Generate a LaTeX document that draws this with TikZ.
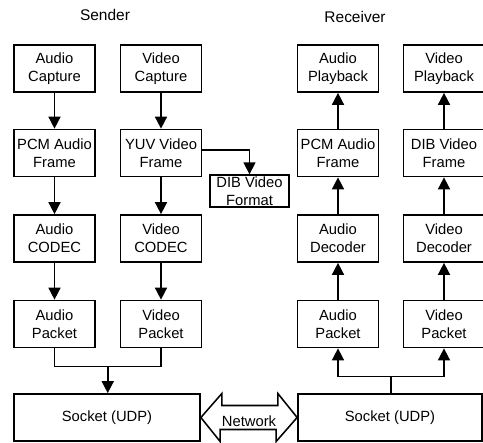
\documentclass[tikz,border=0pt]{standalone}
\usepackage{fontspec}
\setmainfont{Liberation Sans}
\usetikzlibrary{arrows.meta, positioning, calc}
\tikzset{
  blk/.style={draw, line width=1.2pt, minimum width=2.025cm, minimum height=1.175cm,
              align=center, inner sep=1pt, font=\fontsize{10.5}{12.8}\selectfont},
  sock/.style={blk, minimum height=1.175cm},
  arrow/.style={-{Triangle[length=3mm,width=3mm]}, line width=1.1pt},
  wire/.style={line width=1.1pt},
  title/.style={font=\fontsize{11}{13}\selectfont}
}

\begin{document}
\begin{tikzpicture}[x=0.025cm, y=-0.025cm]
    \useasboundingbox (0,0) rectangle (483,443);
    \node[title] (sender) at (105,15) {Sender};
    \node[title] (receiver) at (355,17) {Receiver};

    \node[blk] (acap) at (54.5,68.5) {Audio\\Capture};
    \node[blk] (vcap) at (161,68.5) {Video\\Capture};
    \node[blk] (pcm) at (54.5,153) {PCM Audio\\Frame};
    \node[blk] (yuv) at (161,153) {YUV Video\\Frame};
    \node[blk, minimum width=1.975cm, minimum height=0.7cm] (dib) at (249.5,191) {DIB Video\\Format};
    \node[blk] (acodec) at (54.5,238.5) {Audio\\CODEC};
    \node[blk] (vcodec) at (161,238.5) {Video\\CODEC};
    \node[blk] (apkt) at (54.5,324) {Audio\\Packet};
    \node[blk] (vpkt) at (161,324) {Video\\Packet};
    \node[sock, minimum width=4.65cm] (sockS) at (107,417.5) {Socket (UDP)};

    \node[blk] (aplay) at (338,68.5) {Audio\\Playback};
    \node[blk] (vplay) at (444,68.5) {Video\\Playback};
    \node[blk] (rpcm) at (338,153) {PCM Audio\\Frame};
    \node[blk] (rdib) at (444,153) {DIB Video\\Frame};
    \node[blk] (adec) at (338,238.5) {Audio\\Decoder};
    \node[blk] (vdec) at (444,238.5) {Video\\Decoder};
    \node[blk] (rapkt) at (338,324) {Audio\\Packet};
    \node[blk] (rvpkt) at (444,324) {Video\\Packet};
    \node[sock, minimum width=4.6cm] (sockR) at (390,417.5) {Socket (UDP)};

    \draw[arrow] (acap) -- (pcm);
    \draw[arrow] (pcm) -- (acodec);
    \draw[arrow] (acodec) -- (apkt);
    \draw[arrow] (vcap) -- (yuv);
    \draw[arrow] (yuv) -- (vcodec);
    \draw[arrow] (vcodec) -- (vpkt);
    \draw[arrow] ([yshift=2pt]yuv.east) -| (dib.north);

    \coordinate (sjoin) at ($(apkt.south)!0.5!(vpkt.south)+(0,18)$);
    \draw[wire] (apkt.south) |- (sjoin) -| (vpkt.south);
    \draw[arrow] (sjoin) -- (sjoin |- sockS.north);

    \draw[arrow] (rpcm) -- (aplay);
    \draw[arrow] (adec) -- (rpcm);
    \draw[arrow] (rapkt) -- (adec);
    \draw[arrow] (rdib) -- (vplay);
    \draw[arrow] (vdec) -- (rdib);
    \draw[arrow] (rvpkt) -- (vdec);

    \coordinate (rsplit) at ($(rapkt.south)!0.5!(rvpkt.south)+(0,28)$);
    \draw[wire] (rsplit |- sockR.north) -- (rsplit);
    \draw[arrow] (rsplit) -| (rapkt.south);
    \draw[arrow] (rsplit) -| (rvpkt.south);

    \draw[wire] (sockS.east) -- ++(21,-24) -- ++(0,12) -- ++(56,0) -- ++(0,-12)
      -- (sockR.west) -- ++(-21,24) -- ++(0,-12) -- ++(-56,0) -- ++(0,12) -- cycle;
    \node[font=\fontsize{10.5}{12.8}\selectfont, inner sep=0pt] (net) at ($(sockS.east)!0.5!(sockR.west)+(0,4)$) {Network};
  \end{tikzpicture}
\end{document}
